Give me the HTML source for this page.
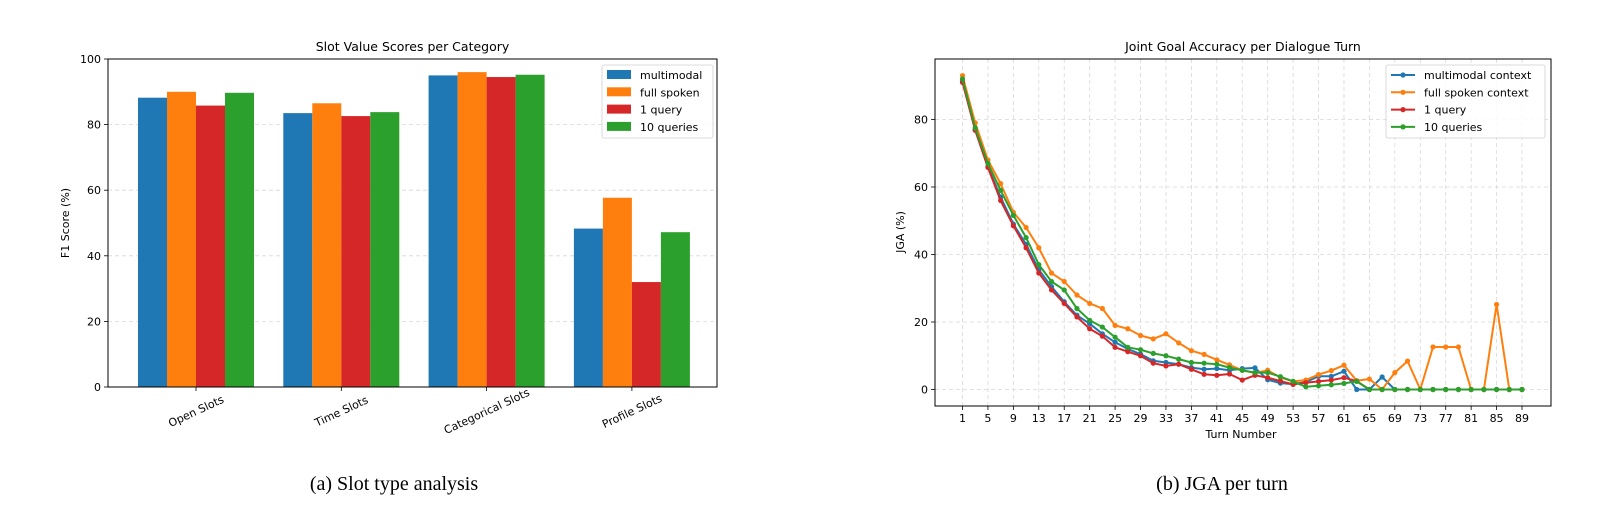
<!DOCTYPE html>
<html><head><meta charset="utf-8">
<style>
body{margin:0;background:#fff;}
svg{display:block;font-family:"DejaVu Sans","Liberation Sans",sans-serif;}
</style></head>
<body>
<svg id="fig" width="1605" height="527" viewBox="0 0 1605 527" xmlns="http://www.w3.org/2000/svg">
<rect width="1605" height="527" fill="#fff"/>
<g id="left"></g>
<g id="right"></g>
<text x="394" y="490" font-family="Liberation Serif, serif" font-size="20" text-anchor="middle">(a) Slot type analysis</text>
<text x="1222" y="490" font-family="Liberation Serif, serif" font-size="20" text-anchor="middle">(b) JGA per turn</text>
</svg>
<script>
const barCategories = ["Open Slots","Time Slots","Categorical Slots","Profile Slots"];
const barSeriesNames = ["multimodal","full spoken","1 query","10 queries"];
const barMultimodal = [88.2,83.5,95.0,48.3];
const barFullSpoken = [90.0,86.5,96.0,57.7];
const barOneQuery = [85.8,82.6,94.5,32.0];
const barTenQueries = [89.7,83.8,95.2,47.2];
const barYTicks = [0,20,40,60,80,100];

const turns = [1,3,5,7,9,11,13,15,17,19,21,23,25,27,29,31,33,35,37,39,41,43,45,47,49,51,53,55,57,59,61,63,65,67,69,71,73,75,77,79,81,83,85,87,89];
const jgaMultimodal = [91.5,77,66,57,49,43,35.5,30.5,26,22,19.5,16.5,14,12,10.5,8.5,8,7.5,6.5,6,6.2,5.7,6.2,6.4,2.9,1.9,1.6,2.2,3.9,3.9,5.4,0,0,3.7,0,0,0,0,0,0,0,0,0,0,0];
const jgaFullSpoken = [93,79,68,61,52.5,48,42,34.5,32,28,25.5,24,19,18,16,15,16.5,13.8,11.5,10.4,8.8,7.3,5.7,4.9,5.7,3.6,2.4,2.8,4.4,5.6,7.2,2.6,3.1,0,5,8.4,0,12.6,12.6,12.6,0,0,25.2,0,0];
const jgaOneQuery = [91,76.8,65.8,56,48.5,42,34.5,29.5,25.5,21.5,18,15.8,12.5,11.2,10,7.8,7,7.5,6,4.5,4.2,4.6,2.8,4.2,3.5,2.5,1.5,2,2.4,2.8,3.5,2.5,0,0,0,0,0,0,0,0,0,0,0,0,0];
const jgaTenQueries = [92,77.5,67,59,51.6,45,37,32,29.5,24,20.5,18.5,15.5,12.5,11.8,10.7,10,9,8,7.8,7.5,6.5,5.7,5,5,3.8,2.4,0.8,1.1,1.4,1.8,2.4,0,0,0,0,0,0,0,0,0,0,0,0,0];
const jgaSeriesNames = ["multimodal context","full spoken context","1 query","10 queries"];
const jgaYTicks = [0,20,40,60,80];
const turnTicks = [1,5,9,13,17,21,25,29,33,37,41,45,49,53,57,61,65,69,73,77,81,85,89];

const colors = ["#1f77b4","#ff7f0e","#d62728","#2ca02c"];
const NS = "http://www.w3.org/2000/svg";
function mk(parent, tag, attrs, text){
  const e = document.createElementNS(NS, tag);
  for (const k in attrs) e.setAttribute(k, attrs[k]);
  if (text !== undefined) e.textContent = text;
  parent.appendChild(e);
  return e;
}

/* ---------- Left bar chart ---------- */
(function(){
  const g = document.getElementById('left');
  const L=108, R=717, T=59, B=387;
  const y = v => B - (v/100)*(B-T);
  const xc = i => 196 + i*145.3;
  const bw = 29;
  mk(g,'text',{x:(L+R)/2,y:51,'font-size':12.5,'text-anchor':'middle'},"Slot Value Scores per Category");
  barYTicks.forEach(t=>{
    if (t>0 && t<100){
      const gl = mk(g,'line',{x1:L,x2:R,y1:y(t),y2:y(t),stroke:'#d8d8d8','stroke-dasharray':'4,3','stroke-width':0.8});
      
      
    }
    mk(g,'line',{x1:L-4,x2:L,y1:y(t),y2:y(t),stroke:'#000','stroke-width':0.8});
    const tl = mk(g,'text',{x:L-7,y:y(t)+4,'font-size':11,'text-anchor':'end'},String(t));
    
    
  });
  const series = [barMultimodal,barFullSpoken,barOneQuery,barTenQueries];
  series.forEach((s,si)=>{
    s.forEach((v,ci)=>{
      const x0 = xc(ci) + (si-2)*bw;
      const r = mk(g,'rect',{x:x0,y:y(v),width:bw,height:B-y(v),fill:colors[si]});
      
      
    });
  });
  barCategories.forEach((c,i)=>{
    mk(g,'line',{x1:xc(i),x2:xc(i),y1:B,y2:B+4,stroke:'#000','stroke-width':0.8});
    const tl = mk(g,'text',{x:xc(i),y:B+28,'font-size':11,'text-anchor':'middle',transform:`rotate(-25 ${xc(i)} ${B+24})`},c);
    
    
  });
  mk(g,'rect',{x:L,y:T,width:R-L,height:B-T,fill:'none',stroke:'#000','stroke-width':1});
  const yt = mk(g,'text',{x:69,y:223,'font-size':11,'text-anchor':'middle',transform:'rotate(-90 69 223)'},"F1 Score (%)");
  
  
  const lg = mk(g,'g',{});
  
  
  mk(lg,'rect',{x:602,y:65,width:111,height:73,rx:2,fill:'#fff',stroke:'#d0d0d0','stroke-width':0.8,'fill-opacity':0.85});
  barSeriesNames.forEach((n,i)=>{
    const yy = 75 + i*17.3;
    const e = mk(lg,'g',{});
    
    
    mk(e,'rect',{x:607,y:yy-5,width:24,height:9,fill:colors[i]});
    mk(e,'text',{x:640,y:yy+4,'font-size':11},n);
  });
})();

/* ---------- Right line chart ---------- */
(function(){
  const g = document.getElementById('right');
  const L=935, R=1551, T=59, B=406;
  const y0=389.5, y80=119.5;
  const y = v => y0 - v*(y0-y80)/80;
  const x = t => 962.5 + (t-1)*(1522-962.5)/88;
  mk(g,'text',{x:(L+R)/2,y:51,'font-size':12.5,'text-anchor':'middle'},"Joint Goal Accuracy per Dialogue Turn");
  turnTicks.forEach(t=>{
    const gl = mk(g,'line',{x1:x(t),x2:x(t),y1:T,y2:B,stroke:'#d8d8d8','stroke-dasharray':'4,3','stroke-width':0.8});
    
    
    mk(g,'line',{x1:x(t),x2:x(t),y1:B,y2:B+4,stroke:'#000','stroke-width':0.8});
    const tl = mk(g,'text',{x:x(t),y:B+16,'font-size':11,'text-anchor':'middle'},String(t));
    
    
  });
  jgaYTicks.forEach(t=>{
    const gl = mk(g,'line',{x1:L,x2:R,y1:y(t),y2:y(t),stroke:'#d8d8d8','stroke-dasharray':'4,3','stroke-width':0.8});
    
    
    mk(g,'line',{x1:L-4,x2:L,y1:y(t),y2:y(t),stroke:'#000','stroke-width':0.8});
    const tl = mk(g,'text',{x:L-7,y:y(t)+4,'font-size':11,'text-anchor':'end'},String(t));
    
    
  });
  const series = [jgaMultimodal,jgaFullSpoken,jgaOneQuery,jgaTenQueries];
  series.forEach((s,si)=>{
    const sg = mk(g,'g',{});
    
    
    const pts = s.map((v,i)=>x(turns[i]).toFixed(1)+','+y(v).toFixed(1)).join(' ');
    mk(sg,'polyline',{points:pts,fill:'none',stroke:colors[si],'stroke-width':2,'stroke-linejoin':'round'});
    s.forEach((v,i)=>{
      const c = mk(sg,'circle',{cx:x(turns[i]),cy:y(v),r:2.6,fill:colors[si]});
      
      
    });
  });
  mk(g,'rect',{x:L,y:T,width:R-L,height:B-T,fill:'none',stroke:'#000','stroke-width':1});
  const xt = mk(g,'text',{x:(L+R)/2-2,y:438,'font-size':11,'text-anchor':'middle'},"Turn Number");
  
  
  const yt = mk(g,'text',{x:904,y:232,'font-size':11,'text-anchor':'middle',transform:'rotate(-90 904 232)'},"JGA (%)");
  
  
  const lg = mk(g,'g',{});
  
  
  mk(lg,'rect',{x:1386,y:65,width:159,height:73,rx:2,fill:'#fff',stroke:'#d0d0d0','stroke-width':0.8,'fill-opacity':0.85});
  jgaSeriesNames.forEach((n,i)=>{
    const yy = 75 + i*17.3;
    const e = mk(lg,'g',{});
    
    
    mk(e,'line',{x1:1391,x2:1415,y1:yy,y2:yy,stroke:colors[i],'stroke-width':2});
    mk(e,'circle',{cx:1403,cy:yy,r:2.6,fill:colors[i]});
    mk(e,'text',{x:1424,y:yy+4,'font-size':11},n);
  });
})();
</script>
</body></html>
